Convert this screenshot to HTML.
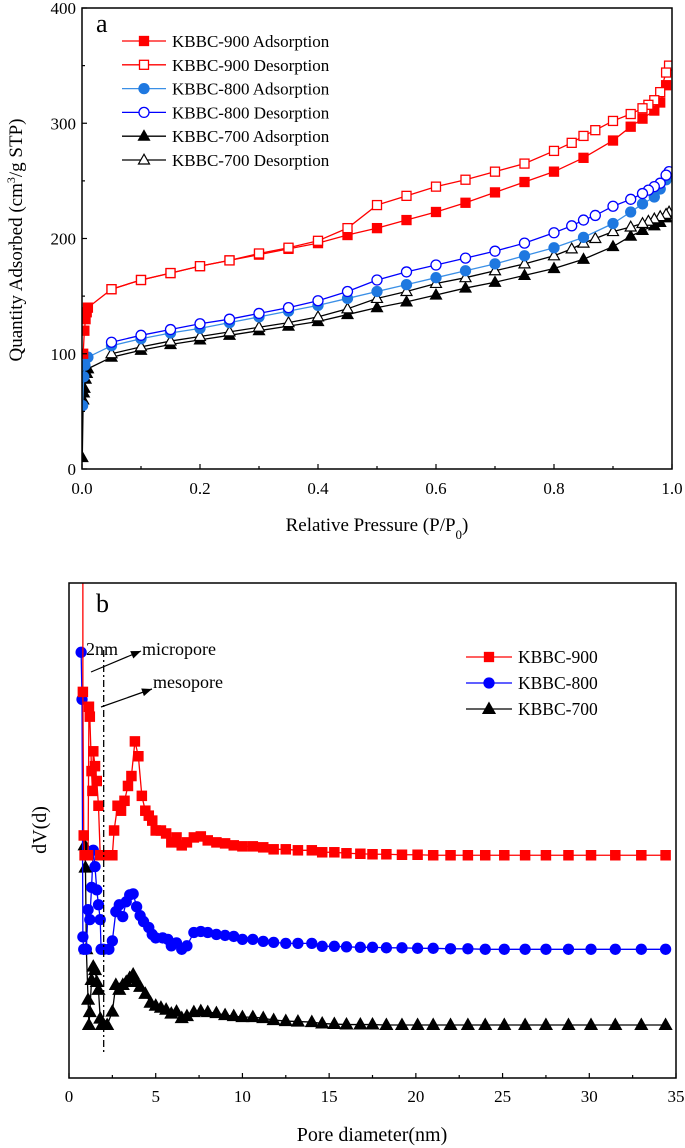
<!DOCTYPE html>
<html><head><meta charset="utf-8"><style>
html,body{margin:0;padding:0;background:#fff;}
svg{display:block;font-family:"Liberation Serif",serif;}
</style></head><body>
<svg id="fig" width="685" height="1148" viewBox="0 0 685 1148" xmlns="http://www.w3.org/2000/svg">
<defs>
<clipPath id="clipA"><rect x="82" y="8" width="590" height="461"/></clipPath>
<clipPath id="clipB"><rect x="69" y="583" width="607" height="495"/></clipPath>
</defs>
<g id="chartA"></g>
<g id="chartB"></g>
</svg>
<script>
// ---- Chart a data ----
const a900adsX=[0.002,0.004,0.006,0.008,0.01,0.05,0.1,0.15,0.2,0.25,0.3,0.35,0.4,0.45,0.5,0.55,0.6,0.65,0.7,0.75,0.8,0.85,0.9,0.93,0.95,0.97,0.98,0.99];
const a900adsY=[100,120,130,136,140,156,164,170,176,181,186,191,196,203,209,216,223,231,240,249,258,270,285,297,304,311,318,333];
const a900desX=[0.995,0.99,0.98,0.97,0.96,0.95,0.93,0.9,0.87,0.85,0.83,0.8,0.75,0.7,0.65,0.6,0.55,0.5,0.45,0.4,0.35,0.3,0.25,0.2,0.15,0.1,0.05];
const a900desY=[350,344,327,320,316,313,308,302,294,289,283,276,265,258,251,245,237,229,209,198,192,187,181,176,170,164,156];
const a800adsX=[0.001,0.003,0.005,0.01,0.05,0.1,0.15,0.2,0.25,0.3,0.35,0.4,0.45,0.5,0.55,0.6,0.65,0.7,0.75,0.8,0.85,0.9,0.93,0.95,0.97,0.98,0.99];
const a800adsY=[55,80,90,97,107,113,118,122,127,132,137,142,148,154,160,166,172,178,185,192,201,213,223,230,236,243,251];
const a800desX=[0.995,0.99,0.98,0.97,0.96,0.95,0.93,0.9,0.87,0.85,0.83,0.8,0.75,0.7,0.65,0.6,0.55,0.5,0.45,0.4,0.35,0.3,0.25,0.2,0.15,0.1,0.05];
const a800desY=[258,255,248,245,242,239,234,228,220,216,211,205,196,189,183,177,171,164,154,146,140,135,130,126,121,116,110];
const a700adsX=[0.0005,0.002,0.003,0.004,0.006,0.008,0.01,0.05,0.1,0.15,0.2,0.25,0.3,0.35,0.4,0.45,0.5,0.55,0.6,0.65,0.7,0.75,0.8,0.85,0.9,0.93,0.95,0.97,0.98,0.99];
const a700adsY=[10,60,66,70,78,83,87,97,103,108,112,116,120,124,128,134,140,145,151,157,162,168,174,182,193,202,207,211,214,218];
const a700desX=[0.995,0.99,0.98,0.97,0.96,0.95,0.93,0.9,0.87,0.85,0.83,0.8,0.75,0.7,0.65,0.6,0.55,0.5,0.45,0.4,0.35,0.3,0.25,0.2,0.15,0.1,0.05];
const a700desY=[223,221,219,217,215,213,210,206,200,196,191,185,178,172,166,161,154,148,139,132,127,123,119,115,111,106,100];
const aXTicks=["0.0","0.2","0.4","0.6","0.8","1.0"];
const aYTicks=["0","100","200","300","400"];

// ---- Chart b data ----
const b900X=[0.8,0.8,0.85,0.9,1.1,1.15,1.2,1.3,1.35,1.4,1.5,1.6,1.7,1.8,2.0,2.2,2.5,2.6,2.8,3.0,3.2,3.4,3.6,3.8,4.0,4.2,4.4,4.6,4.8,5.0,5.3,5.6,5.9,6.2,6.5,6.8,7.2,7.6,8.0,8.5,9,9.5,10,10.6,11.2,11.8,12.5,13.2,14,14.6,15.3,16,16.8,17.5,18.3,19.2,20.1,21,22,23,24,25.1,26.3,27.5,28.8,30.1,31.5,33,34.4];
const b900Y=[110,78,49,45,45,75,73,62,58,66,63,60,55,45,45,45,45,50,55,54,56,59,61,68,65,57,54,53,52,50,50,49.4,47.6,48.6,47,47.6,48.6,48.8,48,47.6,47.4,47,46.8,46.8,46.6,46.2,46.2,46,46,45.6,45.6,45.4,45.3,45.2,45.2,45.1,45.1,45,45,45,45,45,45,45,45,45,45,45,45];
const b800X=[0.7,0.75,0.8,0.85,1.0,1.1,1.2,1.3,1.4,1.5,1.6,1.7,1.8,1.85,2.0,2.3,2.5,2.7,2.9,3.1,3.3,3.5,3.7,3.9,4.1,4.3,4.6,4.8,5.0,5.4,5.7,5.9,6.2,6.5,6.8,7.2,7.6,8.0,8.5,9,9.5,10,10.6,11.2,11.8,12.5,13.2,14,14.6,15.3,16,16.8,17.5,18.3,19.2,20.1,21,22,23,24,25.1,26.3,27.5,28.8,30.1,31.5,33,34.4];
const b800Y=[86,76.5,28.5,26,26,34,32,38.5,46,42.7,38,35,32,26,26,26,27.7,33.6,35,32.6,35.6,37,37.2,34.6,32.8,31.6,30.4,29,28.3,28.3,28,26.7,27.3,26,26.7,29.4,29.6,29.4,29,28.8,28.6,28,28,27.6,27.4,27.2,27.2,27.2,26.6,26.6,26.5,26.4,26.4,26.3,26.3,26.2,26.2,26.1,26.1,26,26,26,26,26,26,26,26,26];
const b700X=[0.9,0.95,1.0,1.1,1.15,1.2,1.3,1.4,1.5,1.6,1.7,1.8,1.9,2.2,2.5,2.7,2.9,3.1,3.3,3.5,3.7,3.9,4.1,4.4,4.7,5.0,5.3,5.6,5.9,6.2,6.5,6.8,7.2,7.6,8.0,8.5,9,9.5,10,10.6,11.2,11.8,12.5,13.2,14,14.6,15.3,16,16.8,17.5,18.3,19.2,20.1,21,22,23,24,25.1,26.3,27.5,28.8,30.1,31.5,33,34.4];
const b700Y=[47,42.5,26,15.8,10.7,13.3,19.8,22.5,21.8,19.4,17.8,12,10.7,10.7,13.4,18.8,17.8,18.8,19.4,20.2,20.9,19.4,18.4,17,15.2,14.6,14.2,13.8,13,13.4,12.1,12.5,13.3,13.5,13.3,13.1,12.7,12.5,12.3,12.3,12.1,11.7,11.5,11.4,11.3,11,10.9,10.8,10.8,10.8,10.7,10.7,10.7,10.7,10.7,10.7,10.7,10.7,10.7,10.7,10.7,10.7,10.7,10.7,10.7];
const bXTicks=["0","5","10","15","20","25","30","35"];

const NS="http://www.w3.org/2000/svg";
function mk(parent,tag,attrs,text){const e=document.createElementNS(NS,tag);for(const k in attrs)e.setAttribute(k,attrs[k]);if(text!==undefined)e.textContent=text;parent.appendChild(e);return e;}

const axL=82,axR=672,axT=8,axB=469;
const ax=v=>axL+v*(axR-axL);
const ay=v=>axB-v/400*(axB-axT);
const bxL=69,bxR=676,bxT=583,bxB=1078;
const bx=v=>bxL+v/35*(bxR-bxL);
const by=v=>bxB-v/100*(bxB-bxT);

function marker(g,shape,x,y,color,filled,s){
  let e;
  const fill=filled?color:"#fff";
  if(shape==="sq") e=mk(g,"rect",{x:x-s,y:y-s,width:2*s,height:2*s,fill:fill,stroke:color,"stroke-width":1.3});
  else if(shape==="ci") e=mk(g,"circle",{cx:x,cy:y,r:s,fill:fill,stroke:color,"stroke-width":1.3});
  else e=mk(g,"polygon",{points:`${x},${y-s*1.15} ${x-s*1.1},${y+s*0.8} ${x+s*1.1},${y+s*0.8}`,fill:fill,stroke:color,"stroke-width":1.2});
  return e;
}
function series(g,xs,ys,fx,fy,color,lineColor,shape,filled,s,name){
  const sg=mk(g,"g",{});
  
  
  const pts=xs.map((x,i)=>fx(x)+","+fy(ys[i])).join(" ");
  mk(sg,"polyline",{points:pts,fill:"none",stroke:lineColor,"stroke-width":1.3});
  xs.forEach((x,i)=>{
    const m=marker(sg,shape,fx(x),fy(ys[i]),color,filled,s);
    
    
  });
}

// ---- draw chart a ----
const A=document.getElementById("chartA");
const plotA=mk(A,"g",{"clip-path":"url(#clipA)"});
series(plotA,a700adsX,a700adsY,ax,ay,"#000","#000","tr",true,5,"kbbc-700-adsorption");
series(plotA,a700desX,a700desY,ax,ay,"#000","#000","tr",false,5,"kbbc-700-desorption");
series(plotA,a800adsX,a800adsY,ax,ay,"#1f78e0","#3a8fe6","ci",true,5,"kbbc-800-adsorption");
series(plotA,a800desX,a800desY,ax,ay,"#0000ff","#0000ff","ci",false,5,"kbbc-800-desorption");
series(plotA,a900adsX,a900adsY,ax,ay,"#ff0000","#ff0000","sq",true,4.5,"kbbc-900-adsorption");
series(plotA,a900desX,a900desY,ax,ay,"#ff0000","#ff0000","sq",false,4.5,"kbbc-900-desorption");
const frA=mk(A,"rect",{x:axL,y:axT,width:axR-axL,height:axB-axT,fill:"none",stroke:"#000","stroke-width":1.5});

for(let i=0;i<=10;i++){const x=ax(i/10);mk(A,"line",{x1:x,y1:axB,x2:x,y2:axB-(i%2?3:5),stroke:"#000","stroke-width":1.2});}
for(let i=0;i<=8;i++){const y=ay(i*50);mk(A,"line",{x1:axL,y1:y,x2:axL+(i%2?3:5),y2:y,stroke:"#000","stroke-width":1.2});}
aXTicks.forEach((t,i)=>{const e=mk(A,"text",{x:ax(i*0.2),y:494,"font-size":17,"text-anchor":"middle"},t);});
aYTicks.forEach((t,i)=>{const e=mk(A,"text",{x:76,y:ay(i*100)+6,"font-size":17,"text-anchor":"end"},t);});
{const e=mk(A,"text",{x:377,y:531,"font-size":19,"text-anchor":"middle"});
 e.innerHTML='Relative Pressure (P/P<tspan baseline-shift="sub" font-size="13">0</tspan>)';}
{const e=mk(A,"text",{x:0,y:0,"font-size":19,"text-anchor":"middle",transform:"translate(22,240) rotate(-90)"});
 e.innerHTML='Quantity Adsorbed (cm<tspan baseline-shift="super" font-size="12">3</tspan>/g STP)';}
{const e=mk(A,"text",{x:96,y:32,"font-size":26},"a");}
const legA=[["KBBC-900 Adsorption","#ff0000","#ff0000","sq",true],["KBBC-900 Desorption","#ff0000","#ff0000","sq",false],["KBBC-800 Adsorption","#1f78e0","#3a8fe6","ci",true],["KBBC-800 Desorption","#0000ff","#0000ff","ci",false],["KBBC-700 Adsorption","#000","#000","tr",true],["KBBC-700 Desorption","#000","#000","tr",false]];
legA.forEach((L,i)=>{const y=41+i*23.8;const g=mk(A,"g",{});
 mk(g,"line",{x1:122,y1:y,x2:166,y2:y,stroke:L[2],"stroke-width":1.3});marker(g,L[3],144,y,L[1],L[4],L[3]==="sq"?4.5:5);
 mk(g,"text",{x:172,y:y+6,"font-size":17},L[0]);});

// ---- draw chart b ----
const B=document.getElementById("chartB");
const plotB=mk(B,"g",{"clip-path":"url(#clipB)"});
series(plotB,b700X,b700Y,bx,by,"#000","#000","tr",true,5.5,"kbbc-700-series");
series(plotB,b800X,b800Y,bx,by,"#0000ff","#0000ff","ci",true,5,"kbbc-800-series");
series(plotB,b900X,b900Y,bx,by,"#ff0000","#ff0000","sq",true,4.6,"kbbc-900-series");
const frB=mk(B,"rect",{x:bxL,y:bxT,width:bxR-bxL,height:bxB-bxT,fill:"none",stroke:"#000","stroke-width":1.5});

for(let i=0;i<=14;i++){const x=bx(i*2.5);mk(B,"line",{x1:x,y1:bxB,x2:x,y2:bxB-(i%2?3:5),stroke:"#000","stroke-width":1.2});}
bXTicks.forEach((t,i)=>{const e=mk(B,"text",{x:bx(i*5),y:1102,"font-size":17,"text-anchor":"middle"},t);});
{const e=mk(B,"text",{x:372,y:1141,"font-size":20,"text-anchor":"middle"},"Pore diameter(nm)");}
{const e=mk(B,"text",{x:0,y:0,"font-size":20,"text-anchor":"middle",transform:"translate(46,830) rotate(-90)"},"dV(d)");}
{const e=mk(B,"text",{x:96,y:612,"font-size":26},"b");}
{const e=mk(B,"line",{x1:bx(2),y1:650,x2:bx(2),y2:1052,stroke:"#000","stroke-width":1.3,"stroke-dasharray":"7,3,2,3"});}
{const e=mk(B,"text",{x:86,y:655,"font-size":18},"2nm");}
{const e=mk(B,"text",{x:142,y:655,"font-size":18},"micropore");}
{const e=mk(B,"text",{x:153,y:688,"font-size":18},"mesopore");}
function arrow(x1,y1,x2,y2,name){const g=mk(B,"g",{});
 mk(g,"line",{x1:x1,y1:y1,x2:x2,y2:y2,stroke:"#000","stroke-width":1.2});
 const a=Math.atan2(y2-y1,x2-x1),L=10,W=4;
 const bx1=x2-L*Math.cos(a),by1=y2-L*Math.sin(a);
 mk(g,"polygon",{points:`${x2},${y2} ${bx1-W*Math.sin(a)},${by1+W*Math.cos(a)} ${bx1+W*Math.sin(a)},${by1-W*Math.cos(a)}`,fill:"#000"});}
arrow(91,672,141,651,"micropore-arrow");
arrow(101,707,152,689,"mesopore-arrow");
const legB=[["KBBC-900","#ff0000","sq",4.5],["KBBC-800","#0000ff","ci",5],["KBBC-700","#000","tr",5.5]];
legB.forEach((L,i)=>{const y=657+i*26;const g=mk(B,"g",{});
 mk(g,"line",{x1:466,y1:y,x2:512,y2:y,stroke:L[1],"stroke-width":1.3});marker(g,L[2],489,y,L[1],true,L[3]);
 mk(g,"text",{x:518,y:y+6,"font-size":17.5},L[0]);});
</script>
</body></html>
